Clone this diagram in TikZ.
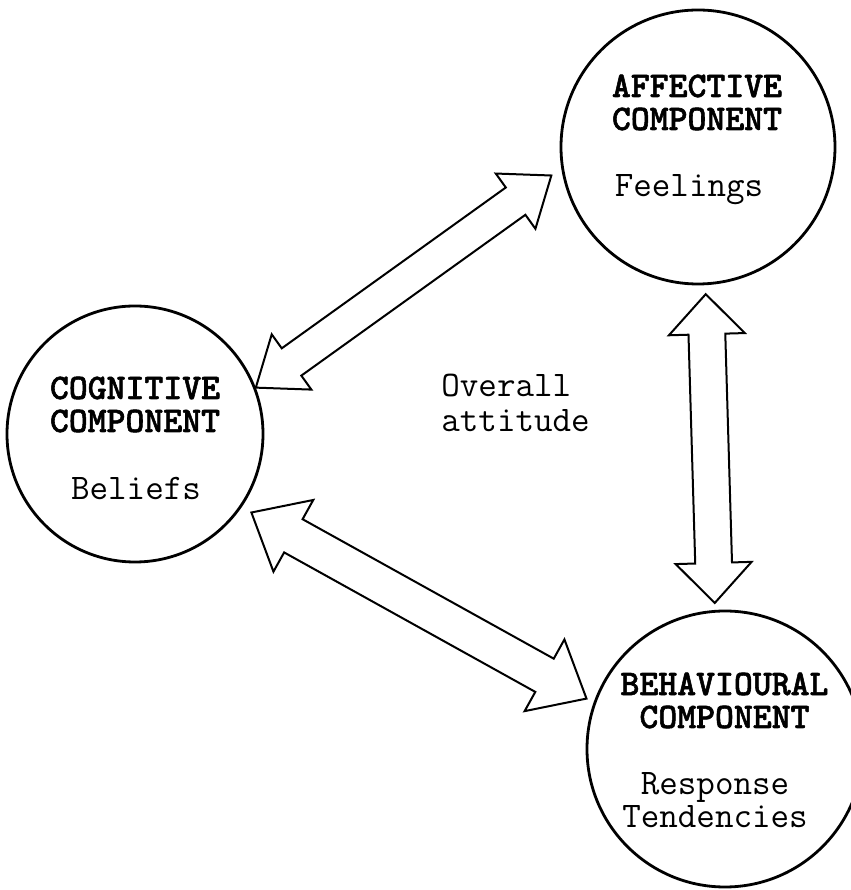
\documentclass[tikz,border=0pt]{standalone}
\usepackage{fontspec}
\newfontfamily\titlefont{lmmonolt10-bold.otf}[FakeBold=1.5]
\usetikzlibrary{calc}
\tikzstyle{component}=[circle, draw, line width=1.4pt, inner sep=0pt]
\tikzstyle{title}=[font=\titlefont\fontsize{18}{16.5}\selectfont, align=center, anchor=base, inner sep=0pt]
\tikzstyle{remark}=[font=\ttfamily\fontsize{18}{16.5}\selectfont, align=center, anchor=base, inner sep=0pt]
\tikzset{
  blockarrow/.style n args={3}{line width=1pt, to path={
    -- ($(\tikztostart)!#1!(\tikztotarget)!#2!90:(\tikztotarget)$)
    -- ($(\tikztostart)!#1!(\tikztotarget)!#3!90:(\tikztotarget)$)
    -- ($(\tikztotarget)!#1!(\tikztostart)!#3!-90:(\tikztostart)$)
    -- ($(\tikztotarget)!#1!(\tikztostart)!#2!-90:(\tikztostart)$)
    -- (\tikztotarget)
    -- ($(\tikztotarget)!#1!(\tikztostart)!#2!90:(\tikztostart)$)
    -- ($(\tikztotarget)!#1!(\tikztostart)!#3!90:(\tikztostart)$)
    -- ($(\tikztostart)!#1!(\tikztotarget)!#3!-90:(\tikztotarget)$)
    -- ($(\tikztostart)!#1!(\tikztotarget)!#2!-90:(\tikztotarget)$)
    -- cycle}}
}

\begin{document}
\begin{tikzpicture}[x=0.5pt, y=0.5pt]
  \useasboundingbox (0,0) rectangle (851,890);
  % the three components
  \node[component, minimum size=128pt] (cog) at (135,456) {};
  \node[component, minimum size=137pt] (aff) at (698,743) {};
  \node[component, minimum size=138pt] (beh) at (725,141) {};

  \node[title] (cogT) at (135,458) {COGNITIVE\\COMPONENT};
  \node[remark] (cogB) at (136,390) {Beliefs};
  \node[title] (affT) at (697,760) {AFFECTIVE\\COMPONENT};
  \node[remark] (affF) at (689,693) {Feelings};
  \node[title] (behT) at (724.5,162) {BEHAVIOURAL\\COMPONENT};
  \node[remark] (behR) at (715,62) {Response\\Tendencies};
  \node[remark, anchor=base west, align=left, font=\ttfamily\fontsize{18}{17.5}\selectfont] (overall) at (441,458) {Overall\\attitude};

  % links
  \draw[blockarrow={22pt}{17pt}{8.4pt}] (cog.21) to ([shift={(191:5.5pt)}]aff.191);
  \draw[blockarrow={24pt}{20.5pt}{9.5pt}] ([shift={(-34:5.5pt)}]cog.-34) to ([shift={(160:4pt)}]beh.160);
  \draw[blockarrow={20pt}{19pt}{9.2pt}] ([shift={(-87:4.5pt)}]aff.-87) to ([shift={(94:3.5pt)}]beh.94);
\end{tikzpicture}
\end{document}
